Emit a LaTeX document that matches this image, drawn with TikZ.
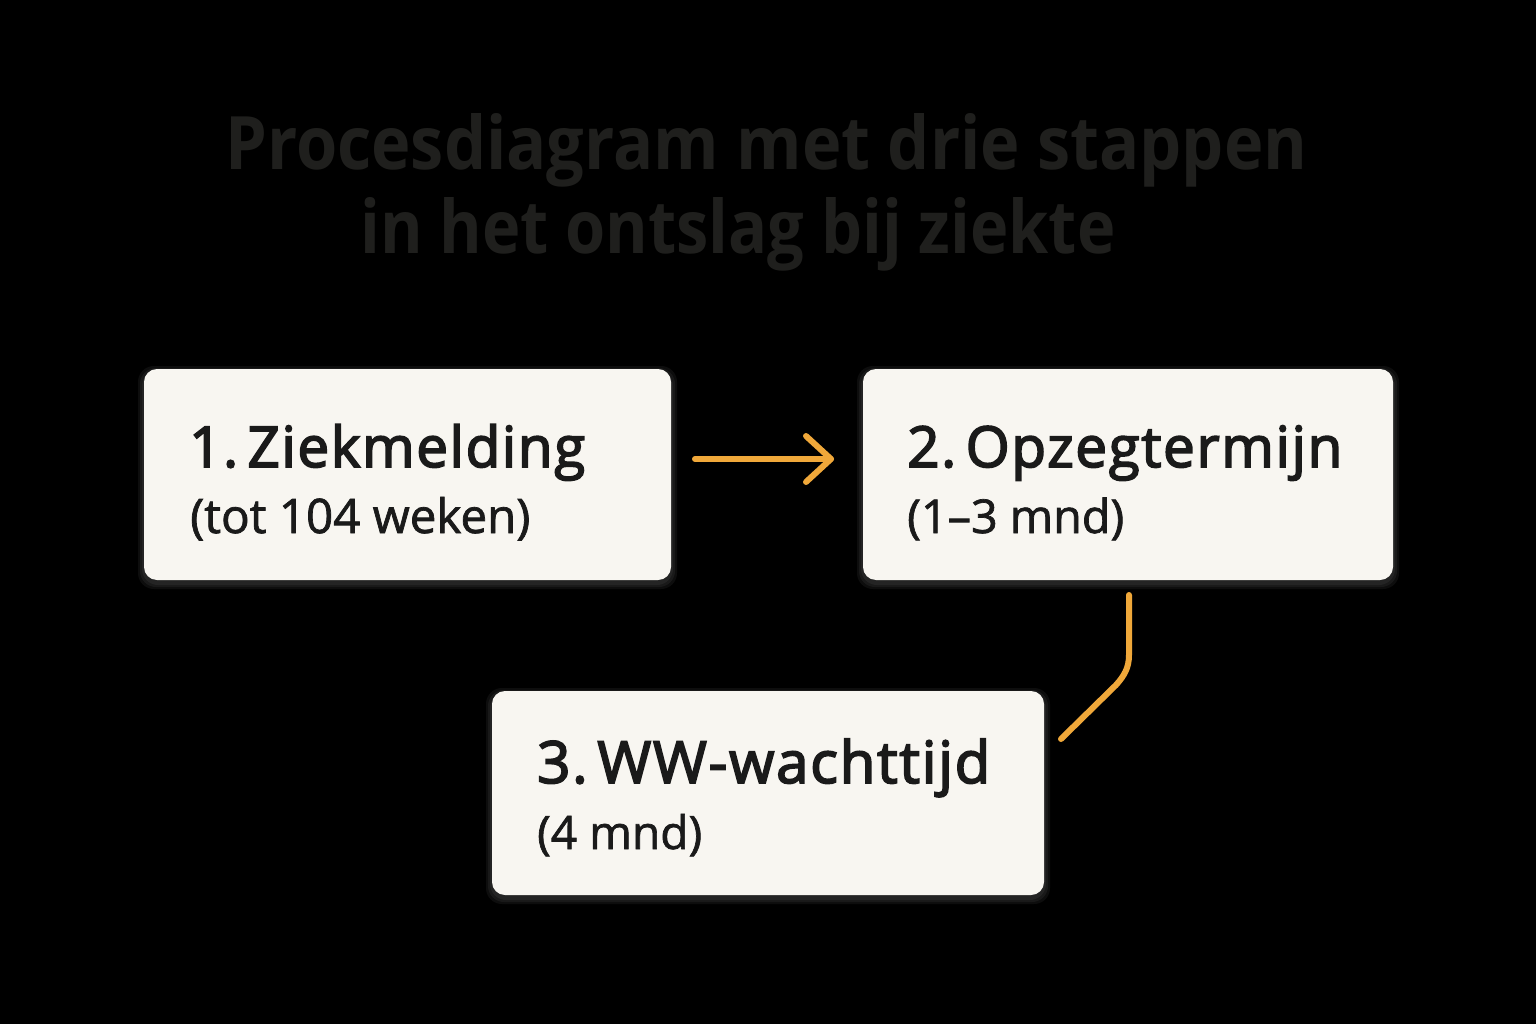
\documentclass[tikz,border=0pt]{standalone}
\usepackage{fontspec}
\setmainfont{Open Sans}
\newfontface\medfont{Open Sans}[FakeBold=3,LetterSpace=3]
\newfontface\subfont{Open Sans}[FakeBold=1.5]
\newfontface\titlefont{Open Sans Bold}
\definecolor{bg}{HTML}{000000}
\definecolor{titlegray}{HTML}{1F1F1D}
\definecolor{boxfill}{HTML}{F8F6F1}
\definecolor{ink}{HTML}{1A1A1A}
\definecolor{accent}{HTML}{F0A83A}
\tikzset{
  stepbox/.style={draw=none, fill=boxfill, rounded corners=13pt, inner sep=0pt},
  boxshadow/.style={fill=white, opacity=0.05, rounded corners=16pt},
  txt/.style={anchor=base west, inner sep=0pt, text=ink},
  ttl/.style={anchor=base west, inner sep=0pt, text=titlegray},
  conn/.style={draw=accent, line width=6pt, line cap=round, line join=round},
}
\begin{document}
\begin{tikzpicture}[x=1pt,y=-1pt]
\useasboundingbox (0,0) rectangle (1536,1024);
\fill[bg] (0,0) rectangle (1536,1024);

% title
\node[ttl] (t1) at (225,170) {\resizebox{1082pt}{56pt}{\titlefont Procesdiagram met drie stappen}};
\node[ttl] (t2) at (360,254) {\resizebox{755pt}{56pt}{\titlefont in het ontslag bij ziekte}};

% shadows
\foreach \e in {2,4,6} {
  \fill[boxshadow] (144-\e,369-\e+3) rectangle (671+\e,580+\e+3);
  \fill[boxshadow] (863-\e,369-\e+3) rectangle (1393+\e,580+\e+3);
  \fill[boxshadow] (492-\e,691-\e+3) rectangle (1044+\e,895+\e+3);
}

% boxes
\path[stepbox] (144,369) rectangle (671,580);
\path[stepbox] (863,369) rectangle (1393,580);
\path[stepbox] (492,691) rectangle (1044,895);

% texts
\node[txt] (l1a) at (189,467) {\resizebox{396pt}{!}{\medfont 1.\,Ziekmelding}};
\node[txt] (l1b) at (190,533) {\resizebox{340pt}{!}{\subfont (tot 104 weken)}};
\node[txt] (l2a) at (907,467) {\resizebox{435pt}{!}{\medfont 2.\,Opzegtermijn}};
\node[txt] (l2b) at (907,533) {\resizebox{217pt}{!}{\subfont (1–3 mnd)}};
\node[txt] (l3a) at (537,783) {\resizebox{453pt}{!}{\medfont 3.\,WW-wachttijd}};
\node[txt] (l3b) at (537,849) {\resizebox{165pt}{!}{\subfont (4 mnd)}};

% connectors
\coordinate (a1s) at (695,459);
\coordinate (a1e) at (831,459);
\coordinate (a1u) at (806,436);
\coordinate (a1d) at (806,482);
\draw[conn] (a1s) -- (a1e);
\draw[conn] (a1u) -- (a1e) -- (a1d);
\coordinate (c2s) at (1129,595);
\coordinate (c2m) at (1129,655);
\coordinate (c3e) at (1061,739);
\draw[conn] (c2s) -- (c2m) .. controls (1129,668) and (1124,676) .. (1116,685) -- (c3e);
\end{tikzpicture}
\end{document}
